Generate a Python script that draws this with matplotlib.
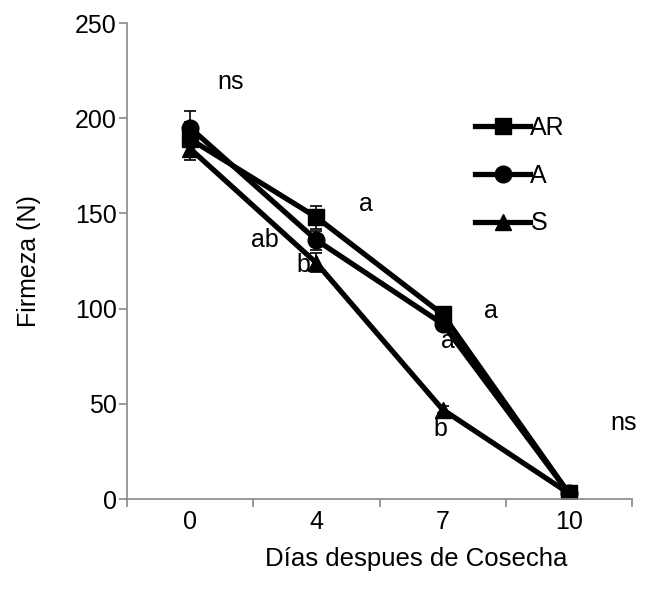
import matplotlib
matplotlib.use("Agg")
import matplotlib.pyplot as plt
from matplotlib.lines import Line2D
import numpy as np

plt.rcParams['font.family'] = ['Liberation Sans', 'DejaVu Sans']

categories = ["0", "4", "7", "10"]
ar_vals = [189, 148, 97, 3]
a_vals = [195, 136, 92, 3]
s_vals = [184, 124, 47, 3]
ar_err = [9, 6, 3, 1]
a_err = [9, 5, 3, 1]
s_err = [6, 5, 2, 1]

labels_text = ["ns", "a", "ab", "b", "a", "a", "b", "ns"]
labels_x = [0.32, 1.39, 0.59, 0.9, 2.38, 2.04, 1.98, 3.43]
labels_y = [219, 155, 136, 123, 99, 83, 37, 40]

FS = 18
fig = plt.figure(figsize=(6.66, 5.95), dpi=100)
ax = fig.add_axes([0.1907, 0.1613, 0.7583, 0.8])

x = np.arange(len(categories))
series = [("AR", ar_vals, ar_err, 's'), ("A", a_vals, a_err, 'o'), ("S", s_vals, s_err, '^')]
handles = []
for name, vals, err, mk in series:
    ax.errorbar(x, vals, yerr=err, color='black', lw=3.8, marker=mk, ms=12,
                capsize=4, elinewidth=1.2, capthick=1.2)
    handles.append(Line2D([], [], color='black', lw=3.8, marker=mk, ms=12, label=name))

for t, tx, ty in zip(labels_text, labels_x, labels_y):
    ax.text(tx, ty, t, fontsize=FS, ha='center', va='center')

ax.set_xlim(-0.5, 3.5)
ax.set_ylim(0, 250)
ax.set_yticks(np.arange(0, 251, 50))
ax.set_xticks(x)
ax.set_xticklabels(categories)
ax.set_xticks(np.arange(-0.5, 3.6, 1), minor=True)
ax.tick_params(axis='x', which='major', length=0, labelsize=FS, pad=8)
ax.tick_params(axis='x', which='minor', length=6, color='#888888', width=1.2)
ax.tick_params(axis='y', which='major', length=6, color='#888888', width=1.2, labelsize=FS, pad=1.5)

for s in ['top', 'right']:
    ax.spines[s].set_visible(False)
for s in ['left', 'bottom']:
    ax.spines[s].set_color('#888888')
    ax.spines[s].set_linewidth(1.2)

ax.set_xlabel("Días despues de Cosecha", fontsize=18.5)
ax.xaxis.set_label_coords(0.573, -0.1)
ax.set_ylabel("Firmeza (N)", fontsize=FS)
ax.yaxis.set_label_coords(-0.17, 0.5)

leg = ax.legend(handles=handles, loc='upper left', bbox_to_anchor=(0.67, 0.826), frameon=False,
                fontsize=FS, handlelength=2.2, handletextpad=0.0, labelspacing=0.95, borderaxespad=0)

fig.savefig("out.png", dpi=100)
